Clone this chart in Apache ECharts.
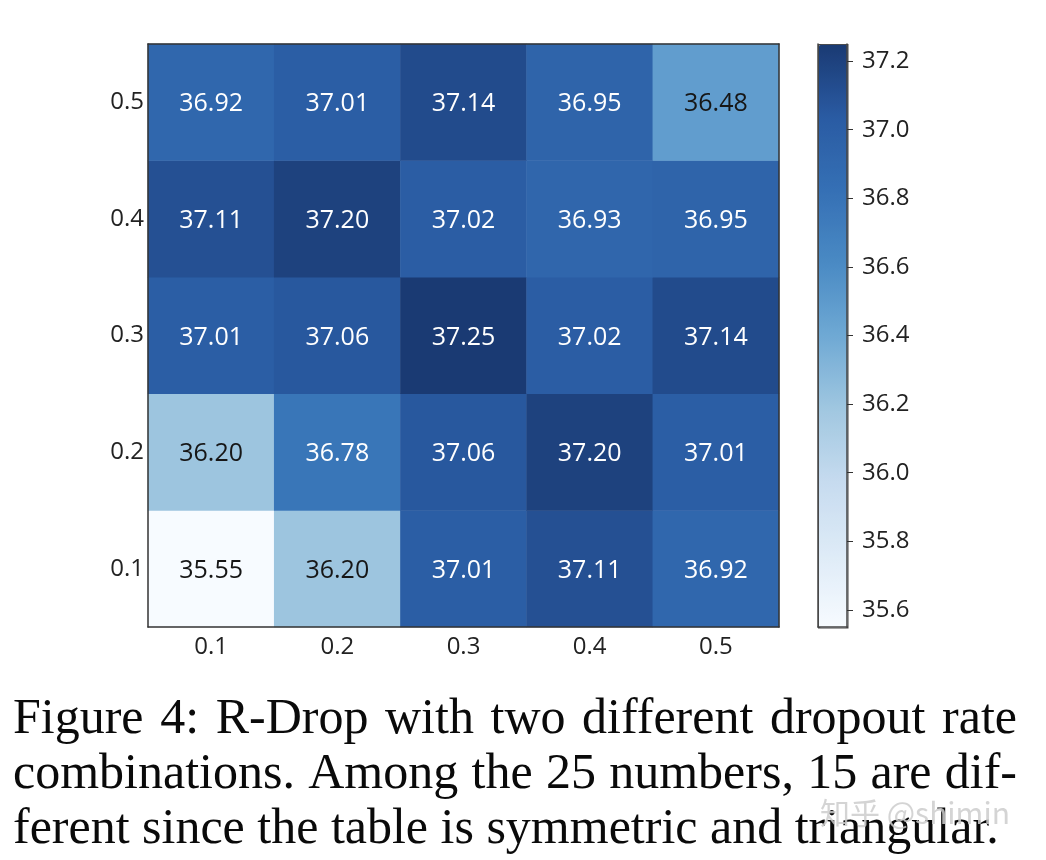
<!DOCTYPE html>
<html>
<head>
<meta charset="utf-8">
<script src="https://cdn.jsdelivr.net/npm/echarts@6/dist/echarts.min.js"></script>
<style>
  html, body { margin: 0; padding: 0; background: #fff; }
  #chart { width: 1046px; height: 860px; }
</style>
</head>
<body>
<div id="chart"></div>
<script>
// dropout rates on each axis
const xRates = ["0.1", "0.2", "0.3", "0.4", "0.5"];
const yRates = ["0.1", "0.2", "0.3", "0.4", "0.5"];
// one row per y rate, bottom (0.1) to top (0.5)
const row01 = [35.55, 36.20, 37.01, 37.11, 36.92];
const row02 = [36.20, 36.78, 37.06, 37.20, 37.01];
const row03 = [37.01, 37.06, 37.25, 37.02, 37.14];
const row04 = [37.11, 37.20, 37.02, 36.93, 36.95];
const row05 = [36.92, 37.01, 37.14, 36.95, 36.48];
const colorbarTicks = [35.6, 35.8, 36.0, 36.2, 36.4, 36.6, 36.8, 37.0, 37.2];
const captionLines = [
  "Figure 4: R-Drop with two different dropout rate",
  "combinations. Among the 25 numbers, 15 are dif-",
  "ferent since the table is symmetric and triangular."
];

const rows = [row01, row02, row03, row04, row05];
const cells = [];
rows.forEach((row, yi) => {
  row.forEach((v, xi) => {
    cells.push({
      value: [xi, yi, v],
      label: { color: v > 36.6 ? "#ffffff" : "#161616" }
    });
  });
});

// caption is justified like the paper: spread words over the line width
const capFont = '50px "Liberation Serif"';
const measure = document.createElement("canvas").getContext("2d");
measure.font = capFont;
const capLeft = 13, capRight = 1017;
const captionGraphics = [];
captionLines.forEach((line, i) => {
  const words = line.split(" ");
  const top = 695 + i * 55;
  const last = i === captionLines.length - 1;
  const widths = words.map((w) => measure.measureText(w).width);
  const total = widths.reduce((a, b) => a + b, 0);
  const gap = last ? measure.measureText(" ").width
                   : (capRight - capLeft - total) / (words.length - 1);
  let x = capLeft;
  words.forEach((w, k) => {
    captionGraphics.push({
      type: "text", left: x, top: top,
      style: { text: w, font: capFont, fill: "#0a0a0a" }
    });
    x += widths[k] + gap;
  });
});

const chart = echarts.init(document.getElementById("chart"));
const tickFont = { fontFamily: "Open Sans", fontSize: 24, color: "#222" };

chart.setOption({
  animation: false,
  backgroundColor: "#fff",
  grid: [
    { left: 148, top: 44, width: 631, height: 583, containLabel: false, outerBoundsMode: "none" },
    { left: 818, top: 44, width: 29, height: 583, containLabel: false, outerBoundsMode: "none" }
  ],
  xAxis: [
    {
      type: "category", data: xRates, gridIndex: 0, z: 10,
      axisLine: { lineStyle: { color: "#333", width: 1.5 } },
      axisTick: { show: false },
      axisLabel: Object.assign({ margin: 8 }, tickFont),
      splitArea: { show: false }
    },
    {
      type: "category", data: xRates, gridIndex: 0, position: "top", z: 10,
      axisLine: { lineStyle: { color: "#333", width: 1.5 } },
      axisTick: { show: false }, axisLabel: { show: false }
    },
    {
      type: "category", data: ["c"], gridIndex: 1, position: "bottom", z: 10,
      axisLine: { lineStyle: { color: "#444", width: 1.5 } },
      axisTick: { show: false }, axisLabel: { show: false }
    }
  ],
  yAxis: [
    {
      type: "category", data: yRates, gridIndex: 0, z: 10,
      axisLine: { lineStyle: { color: "#333", width: 1.5 } },
      axisTick: { show: false },
      axisLabel: Object.assign({ margin: 4 }, tickFont)
    },
    {
      type: "category", data: yRates, gridIndex: 0, position: "right", z: 10,
      axisLine: { lineStyle: { color: "#333", width: 1.5 } },
      axisTick: { show: false }, axisLabel: { show: false }
    },
    {
      type: "value", gridIndex: 1, position: "right", min: 35.55, max: 37.25, z: 10,
      splitLine: { show: false },
      axisLine: { show: true, lineStyle: { color: "#444", width: 1.5 } },
      axisTick: { show: true, length: 6, customValues: colorbarTicks, lineStyle: { color: "#333" } },
      axisLabel: Object.assign({
        margin: 15,
        customValues: colorbarTicks,
        formatter: (v) => v.toFixed(1)
      }, tickFont)
    },
    {
      type: "value", gridIndex: 1, position: "left", min: 35.55, max: 37.25, z: 10,
      splitLine: { show: false },
      axisLine: { show: true, lineStyle: { color: "#444", width: 1.5 } },
      axisTick: { show: false }, axisLabel: { show: false }
    }
  ],
  visualMap: {
    type: "continuous",
    seriesIndex: 0,
    min: 35.55,
    max: 37.25,
    left: 818,
    top: 44,
    itemWidth: 29,
    itemHeight: 583,
    padding: 0,
    calculable: false,
    hoverLink: false,
    borderWidth: 1.5,
    borderColor: "#444",
    inRange: {
      color: ["#f7fbff", "#deebf7", "#c6dbef", "#a0c7e0", "#6fa9d4",
              "#4a8ac4", "#3570b5", "#2a5ba3", "#1a3a73"]
    }
  },
  series: [
    {
      type: "heatmap",
      xAxisIndex: 0,
      yAxisIndex: 0,
      data: cells,
      label: {
        show: true,
        fontFamily: "Open Sans",
        fontSize: 25,
        offset: [0, 2],
        formatter: (p) => p.value[2].toFixed(2)
      },
      emphasis: { disabled: true }
    }
  ],
  graphic: captionGraphics.concat([
    {
      type: "text",
      left: 820,
      top: 798,
      z: 200,
      style: {
        text: "知乎 @shimin",
        font: '30px "Noto Sans CJK SC"',
        fill: "rgba(205,205,205,0.85)"
      }
    }
  ])
});
</script>
</body>
</html>
